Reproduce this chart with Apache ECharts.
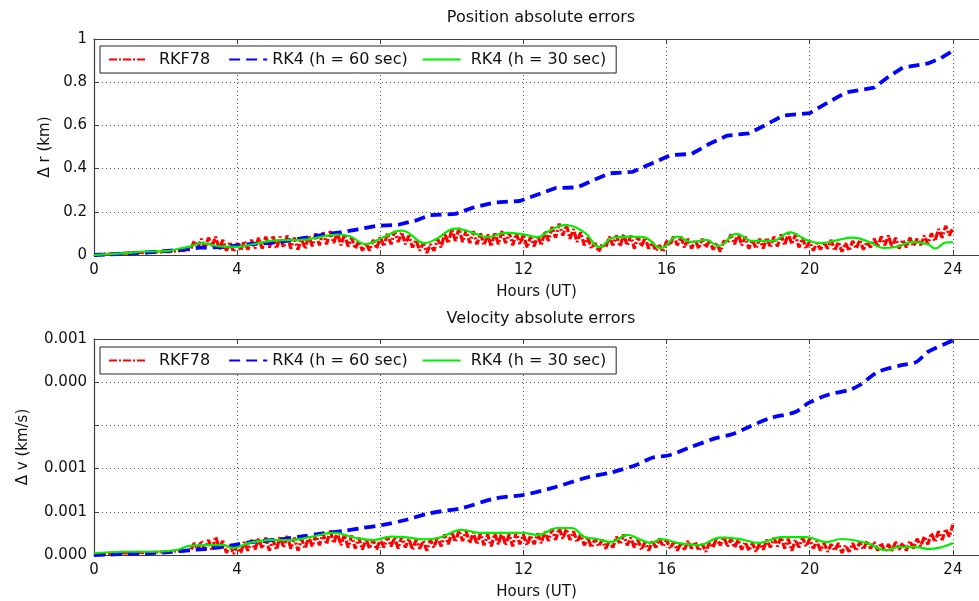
<!DOCTYPE html>
<html>
<head>
<meta charset="utf-8">
<script src="https://cdn.jsdelivr.net/npm/echarts@6/dist/echarts.min.js"></script>
<style>
html,body{margin:0;padding:0;background:#fff;}
#chart{width:979px;height:601px;}
</style>
</head>
<body>
<div id="chart"></div>
<script>
// ---------------- DATA ----------------
const seriesNames = ['RKF78', 'RK4 (h = 60 sec)', 'RK4 (h = 30 sec)'];
const titles = ['Position absolute errors', 'Velocity absolute errors'];
const yNames = ['\u0394 r (km)', '\u0394 v (km/s)'];
const xName = 'Hours (UT)';
const xTicks = [0, 4, 8, 12, 16, 20, 24];
const posTickLabels = ['0', '0.2', '0.4', '0.6', '0.8', '1'];
const velTickLabels = ['0.000', '0.001', '0.001', '', '0.000', '0.001'];

// sample times of the RKF78 traces (hours)
const redHours = [
  0, 0.3, 0.6, 0.9, 1.2, 1.5, 1.8, 2.1, 2.4,
  2.7, 2.8, 2.9,
  3.0, 3.1, 3.2, 3.3, 3.4, 3.5, 3.6, 3.7, 3.8, 3.9,
  4.0, 4.1, 4.2, 4.3, 4.4, 4.5, 4.6, 4.7, 4.8, 4.9,
  5.0, 5.1, 5.2, 5.3, 5.4, 5.5, 5.6, 5.7, 5.8, 5.9,
  6.0, 6.1, 6.2, 6.3, 6.4, 6.5, 6.6, 6.7, 6.8, 6.9,
  7.0, 7.1, 7.2, 7.3, 7.4, 7.5, 7.6, 7.7, 7.8, 7.9,
  8.0, 8.1, 8.2, 8.3, 8.4, 8.5, 8.6, 8.7, 8.8, 8.9,
  9.0, 9.1, 9.2, 9.3, 9.4, 9.5, 9.6, 9.7, 9.8, 9.9,
  10.0, 10.1, 10.2, 10.3, 10.4, 10.5, 10.6, 10.7, 10.8, 10.9,
  11.0, 11.1, 11.2, 11.3, 11.4, 11.5, 11.6, 11.7, 11.8, 11.9,
  12.0, 12.1, 12.2, 12.3, 12.4, 12.5, 12.6, 12.7, 12.8, 12.9,
  13.0, 13.1, 13.2, 13.3, 13.4, 13.5, 13.6, 13.7, 13.8, 13.9,
  14.0, 14.1, 14.2, 14.3, 14.4, 14.5, 14.6, 14.7, 14.8, 14.9,
  15.0, 15.1, 15.2, 15.3, 15.4, 15.5, 15.6, 15.7, 15.8, 15.9,
  16.0, 16.1, 16.2, 16.3, 16.4, 16.5, 16.6, 16.7, 16.8, 16.9,
  17.0, 17.1, 17.2, 17.3, 17.4, 17.5, 17.6, 17.7, 17.8, 17.9,
  18.0, 18.1, 18.2, 18.3, 18.4, 18.5, 18.6, 18.7, 18.8, 18.9,
  19.0, 19.1, 19.2, 19.3, 19.4, 19.5, 19.6, 19.7, 19.8, 19.9,
  20.0, 20.1, 20.2, 20.3, 20.4, 20.5, 20.6, 20.7, 20.8, 20.9,
  21.0, 21.1, 21.2, 21.3, 21.4, 21.5, 21.6, 21.7, 21.8, 21.9,
  22.0, 22.1, 22.2, 22.3, 22.4, 22.5, 22.6, 22.7, 22.8, 22.9,
  23.0, 23.1, 23.2, 23.3, 23.4, 23.5, 23.6, 23.7, 23.8, 23.9,
  24.0
];

// RKF78 position error (km)
const redPos = [
  0.002, 0.004, 0.006, 0.009, 0.012, 0.010, 0.014, 0.016, 0.020,
  0.025, 0.065, 0.035,
  0.075, 0.030, 0.080, 0.040, 0.085, 0.025, 0.070, 0.020, 0.060, 0.015,
  0.055, 0.020, 0.065, 0.025, 0.070, 0.030, 0.080, 0.030, 0.085, 0.035,
  0.090, 0.030, 0.085, 0.035, 0.090, 0.030, 0.080, 0.025, 0.075, 0.030,
  0.090, 0.040, 0.100, 0.045, 0.105, 0.050, 0.110, 0.055, 0.105, 0.045,
  0.095, 0.040, 0.080, 0.030, 0.065, 0.020, 0.055, 0.020, 0.070, 0.030,
  0.085, 0.040, 0.100, 0.050, 0.110, 0.060, 0.105, 0.050, 0.090, 0.035,
  0.070, 0.020, 0.055, 0.010, 0.050, 0.020, 0.075, 0.035, 0.100, 0.055,
  0.120, 0.065, 0.125, 0.060, 0.115, 0.055, 0.110, 0.050, 0.100, 0.045,
  0.095, 0.040, 0.105, 0.050, 0.110, 0.055, 0.105, 0.045, 0.100, 0.050,
  0.095, 0.035, 0.085, 0.040, 0.090, 0.045, 0.110, 0.065, 0.130, 0.080,
  0.145, 0.090, 0.140, 0.075, 0.120, 0.060, 0.105, 0.045, 0.080, 0.030,
  0.055, 0.015, 0.050, 0.035, 0.085, 0.045, 0.090, 0.040, 0.095, 0.045,
  0.090, 0.030, 0.085, 0.040, 0.080, 0.030, 0.060, 0.020, 0.045, 0.015,
  0.065, 0.045, 0.090, 0.045, 0.085, 0.035, 0.075, 0.030, 0.070, 0.030,
  0.075, 0.035, 0.070, 0.025, 0.055, 0.015, 0.065, 0.055, 0.095, 0.050,
  0.100, 0.045, 0.085, 0.030, 0.070, 0.030, 0.075, 0.030, 0.080, 0.035,
  0.085, 0.040, 0.095, 0.045, 0.100, 0.050, 0.095, 0.035, 0.080, 0.030,
  0.065, 0.020, 0.055, 0.025, 0.060, 0.030, 0.070, 0.020, 0.060, 0.015,
  0.055, 0.020, 0.065, 0.030, 0.070, 0.025, 0.060, 0.035, 0.075, 0.040,
  0.085, 0.045, 0.090, 0.035, 0.080, 0.030, 0.070, 0.035, 0.080, 0.040,
  0.075, 0.045, 0.090, 0.050, 0.100, 0.065, 0.120, 0.080, 0.135, 0.090,
  0.125
];

// RKF78 velocity error (in axis units, 5 grid steps = full height)
const redVel = [
  0.003, 0.006, 0.008, 0.010, 0.012, 0.010, 0.014, 0.016, 0.020,
  0.020, 0.055, 0.025,
  0.065, 0.025, 0.070, 0.020, 0.085, 0.030, 0.065, 0.010, 0.050, 0.005,
  0.045, 0.010, 0.060, 0.020, 0.070, 0.025, 0.075, 0.030, 0.080, 0.020,
  0.070, 0.025, 0.085, 0.035, 0.090, 0.030, 0.080, 0.020, 0.075, 0.030,
  0.085, 0.040, 0.095, 0.045, 0.100, 0.050, 0.115, 0.055, 0.105, 0.045,
  0.095, 0.035, 0.090, 0.030, 0.080, 0.025, 0.075, 0.030, 0.070, 0.025,
  0.075, 0.035, 0.085, 0.040, 0.080, 0.030, 0.085, 0.035, 0.075, 0.025,
  0.070, 0.030, 0.065, 0.020, 0.070, 0.035, 0.085, 0.040, 0.095, 0.050,
  0.105, 0.060, 0.115, 0.065, 0.110, 0.055, 0.105, 0.050, 0.100, 0.045,
  0.095, 0.040, 0.100, 0.050, 0.105, 0.045, 0.095, 0.040, 0.105, 0.050,
  0.095, 0.045, 0.090, 0.050, 0.100, 0.055, 0.110, 0.065, 0.120, 0.070,
  0.125, 0.075, 0.120, 0.070, 0.110, 0.060, 0.095, 0.045, 0.080, 0.035,
  0.075, 0.040, 0.070, 0.030, 0.065, 0.035, 0.085, 0.050, 0.095, 0.045,
  0.080, 0.035, 0.070, 0.025, 0.060, 0.020, 0.065, 0.035, 0.075, 0.040,
  0.070, 0.030, 0.060, 0.020, 0.055, 0.025, 0.065, 0.030, 0.060, 0.020,
  0.050, 0.015, 0.060, 0.035, 0.080, 0.045, 0.085, 0.040, 0.075, 0.035,
  0.070, 0.025, 0.060, 0.020, 0.055, 0.015, 0.055, 0.025, 0.070, 0.035,
  0.080, 0.040, 0.085, 0.030, 0.075, 0.020, 0.070, 0.035, 0.080, 0.040,
  0.075, 0.030, 0.065, 0.020, 0.055, 0.015, 0.050, 0.020, 0.055, 0.010,
  0.045, 0.015, 0.055, 0.020, 0.060, 0.025, 0.065, 0.030, 0.060, 0.020,
  0.055, 0.015, 0.050, 0.020, 0.060, 0.025, 0.055, 0.020, 0.065, 0.030,
  0.075, 0.040, 0.085, 0.050, 0.100, 0.060, 0.110, 0.070, 0.120, 0.085,
  0.140
];

// RK4 h = 60 s, position [hour, km]
const bluePos = [
  [0,0],[0.8,0.005],[1.75,0.015],[2.5,0.025],[2.96,0.034],[3.6,0.036],[4.35,0.05],[5.1,0.058],
  [5.84,0.078],[6.4,0.093],[6.8,0.103],[7.34,0.118],[7.9,0.135],[8.5,0.14],[9.0,0.16],[9.4,0.185],
  [10.1,0.19],[10.6,0.22],[11.2,0.243],[11.9,0.25],[12.4,0.28],[12.9,0.31],[13.5,0.313],[14.0,0.35],
  [14.4,0.378],[15.05,0.385],[15.6,0.425],[16.1,0.462],[16.7,0.468],[17.2,0.515],[17.7,0.553],
  [18.3,0.563],[18.8,0.605],[19.25,0.645],[20.0,0.657],[20.5,0.705],[21.0,0.752],[21.8,0.775],
  [22.2,0.825],[22.6,0.868],[23.3,0.887],[23.65,0.91],[24,0.945]
];
// RK4 h = 30 s, position [hour, km]
const greenPos = [
  [0,0],[0.5,0.005],[1,0.01],[1.3,0.015],[2,0.018],[2.4,0.03],[2.7,0.04],[3.0,0.055],[3.2,0.05],
  [3.5,0.04],[4.0,0.038],[4.5,0.052],[5.1,0.068],[5.8,0.07],[6.2,0.079],[6.8,0.095],[7.15,0.087],
  [7.6,0.05],[8.05,0.08],[8.6,0.113],[9.25,0.055],[9.6,0.078],[10.1,0.122],[10.55,0.105],[11.0,0.083],
  [11.5,0.102],[11.95,0.097],[12.4,0.083],[12.7,0.11],[13.15,0.138],[13.7,0.105],[14.13,0.037],
  [14.5,0.08],[15.0,0.085],[15.35,0.083],[15.85,0.032],[16.3,0.085],[16.7,0.06],[17.1,0.07],
  [17.45,0.042],[17.95,0.098],[18.4,0.065],[18.96,0.065],[19.45,0.105],[19.9,0.07],[20.3,0.055],
  [20.75,0.068],[21.2,0.08],[21.66,0.06],[22.05,0.033],[22.4,0.037],[22.87,0.06],[23.3,0.05],
  [23.5,0.03],[23.8,0.058],[24,0.06]
];
// RK4 h = 60 s, velocity [hour, axis units]
const blueVel = [
  [0,0],[1,0.005],[2,0.012],[2.7,0.023],[3.15,0.028],[3.9,0.046],[4.5,0.062],[5.2,0.072],[5.76,0.085],
  [6.4,0.1],[7.0,0.112],[7.5,0.125],[8.07,0.139],[8.7,0.162],[9.4,0.194],[10.3,0.218],[11.2,0.262],
  [12.0,0.278],[12.9,0.315],[13.8,0.36],[14.5,0.384],[15.15,0.417],[15.6,0.45],[16.1,0.463],
  [16.6,0.495],[17.4,0.542],[17.85,0.56],[18.3,0.593],[18.9,0.634],[19.6,0.662],[19.97,0.704],
  [20.5,0.741],[21.1,0.764],[21.4,0.787],[21.9,0.847],[22.6,0.88],[22.98,0.894],[23.3,0.94],
  [23.9,0.986],[24,0.995]
];
// RK4 h = 30 s, velocity [hour, axis units]
const greenVel = [
  [0,0.008],[0.8,0.015],[1.75,0.015],[2.3,0.023],[2.67,0.042],[3.14,0.046],[3.6,0.046],[3.88,0.033],
  [4.35,0.056],[4.9,0.069],[5.47,0.069],[6.03,0.083],[6.7,0.102],[7.3,0.08],[7.8,0.069],[8.3,0.085],
  [8.68,0.083],[9.24,0.072],[9.7,0.083],[10.27,0.116],[10.83,0.102],[11.39,0.102],[11.95,0.103],
  [12.4,0.093],[12.95,0.125],[13.35,0.125],[13.71,0.083],[14.07,0.074],[14.45,0.06],[14.9,0.093],
  [15.3,0.069],[15.57,0.056],[15.85,0.074],[16.3,0.056],[16.9,0.046],[17.5,0.08],[18.0,0.075],
  [18.6,0.056],[19.2,0.083],[19.9,0.083],[20.46,0.06],[20.9,0.074],[21.57,0.056],[22.14,0.022],
  [22.5,0.037],[22.98,0.036],[23.35,0.028],[23.7,0.037],[24,0.056]
];

// ---------------- CHART ----------------
const FONT = 'DejaVu Sans';
const AX = '#404040';
const X_MAX = 24.73;   // the plot box runs past the right edge of the picture
const colors = ['#ff0000', '#0000ff', '#00ee00'];
const lineStyles = [
  { color: colors[0], width: 3.2, type: [8, 2, 2, 2] },
  { color: colors[1], width: 3.8, type: [11, 6] },
  { color: colors[2], width: 2.2, type: 'solid' }
];
const grids = [
  { left: 94, top: 39, right: 0, height: 216 },
  { left: 94, top: 339, right: 0, height: 216 }
];

function zip(xs, ys) { return xs.map((x, i) => [x, ys[i]]); }

const xAxes = [];
const yAxes = [];
[0, 1].forEach(g => {
  xAxes.push({
    type: 'value', gridIndex: g, min: 0, max: X_MAX, interval: 4, position: 'bottom',
    name: xName, nameLocation: 'middle', nameGap: 30,
    nameTextStyle: { fontFamily: FONT, fontSize: 15, color: '#111' },
    axisLine: { lineStyle: { color: AX, width: 1.2 } },
    axisTick: { inside: true, length: 5, lineStyle: { color: AX } },
    axisLabel: { fontFamily: FONT, fontSize: 15, color: '#111', margin: 8, showMaxLabel: false,
      formatter: v => (xTicks.indexOf(v) >= 0 ? String(v) : '') },
    splitLine: { show: true, lineStyle: { color: '#555', type: [1, 3], width: 1 } }
  });
  xAxes.push({
    type: 'value', gridIndex: g, min: 0, max: X_MAX, interval: 4, position: 'top',
    axisLine: { show: true, onZero: false, lineStyle: { color: AX, width: 1.2 } },
    axisTick: { show: true, inside: true, length: 5, lineStyle: { color: AX } },
    axisLabel: { show: false }, splitLine: { show: false }
  });
  const labels = g === 0 ? posTickLabels : velTickLabels;
  yAxes.push({
    type: 'value', gridIndex: g, min: 0, max: 1, interval: 0.2,
    name: yNames[g], nameLocation: 'middle', nameGap: g === 0 ? 37 : 63,
    nameTextStyle: { fontFamily: FONT, fontSize: 15, color: '#111' },
    axisLine: { show: true, lineStyle: { color: AX, width: 1.2 } },
    axisTick: { show: true, inside: true, length: 5, lineStyle: { color: AX } },
    axisLabel: { fontFamily: FONT, fontSize: 15, color: '#111', margin: 7,
      formatter: v => labels[Math.round(v / 0.2)] },
    splitLine: { show: true, lineStyle: { color: '#555', type: [1, 3], width: 1 } }
  });
});

function mkSeries(name, data, g, idx, smooth) {
  return {
    name: name, type: 'line', data: data, xAxisIndex: g * 2, yAxisIndex: g,
    symbol: 'none', showSymbol: false, smooth: smooth, lineStyle: lineStyles[idx],
    itemStyle: { color: colors[idx] }, animation: false, z: 2 + idx
  };
}

const series = [
  mkSeries(seriesNames[0], zip(redHours, redPos), 0, 0, false),
  mkSeries(seriesNames[1], bluePos, 0, 1, false),
  mkSeries(seriesNames[2], greenPos, 0, 2, 0.45),
  mkSeries(seriesNames[0], zip(redHours, redVel), 1, 0, false),
  mkSeries(seriesNames[1], blueVel, 1, 1, 0.3),
  mkSeries(seriesNames[2], greenVel, 1, 2, 0.45)
];

function mkLegend(top) {
  return {
    left: 100, top: top, orient: 'horizontal',
    backgroundColor: '#fff', borderColor: '#222', borderWidth: 1,
    padding: [4, 10, 4, 8], itemWidth: 38, itemHeight: 14, itemGap: 10,
    itemStyle: { opacity: 0, borderWidth: 0 },
    textStyle: { fontFamily: FONT, fontSize: 16, color: '#111', lineHeight: 19 },
    data: [
      { name: seriesNames[0], textStyle: { padding: [0, 8, 0, 7] } },
      { name: seriesNames[1], textStyle: { padding: [0, 4, 0, 0] } },
      { name: seriesNames[2], textStyle: { padding: [0, 0, 0, 5] } }
    ]
  };
}

const option = {
  animation: false,
  backgroundColor: '#fff',
  title: [
    { text: titles[0], left: 541, top: 10, textAlign: 'center', padding: 0,
      textStyle: { fontFamily: FONT, fontSize: 16, fontWeight: 'normal', color: '#111' } },
    { text: titles[1], left: 541, top: 311, textAlign: 'center', padding: 0,
      textStyle: { fontFamily: FONT, fontSize: 16, fontWeight: 'normal', color: '#111' } }
  ],
  legend: [mkLegend(46), mkLegend(347)],
  grid: grids,
  xAxis: xAxes,
  yAxis: yAxes,
  series: series
};

const chart = echarts.init(document.getElementById('chart'), null, { renderer: 'canvas' });
chart.setOption(option);
</script>
</body>
</html>
